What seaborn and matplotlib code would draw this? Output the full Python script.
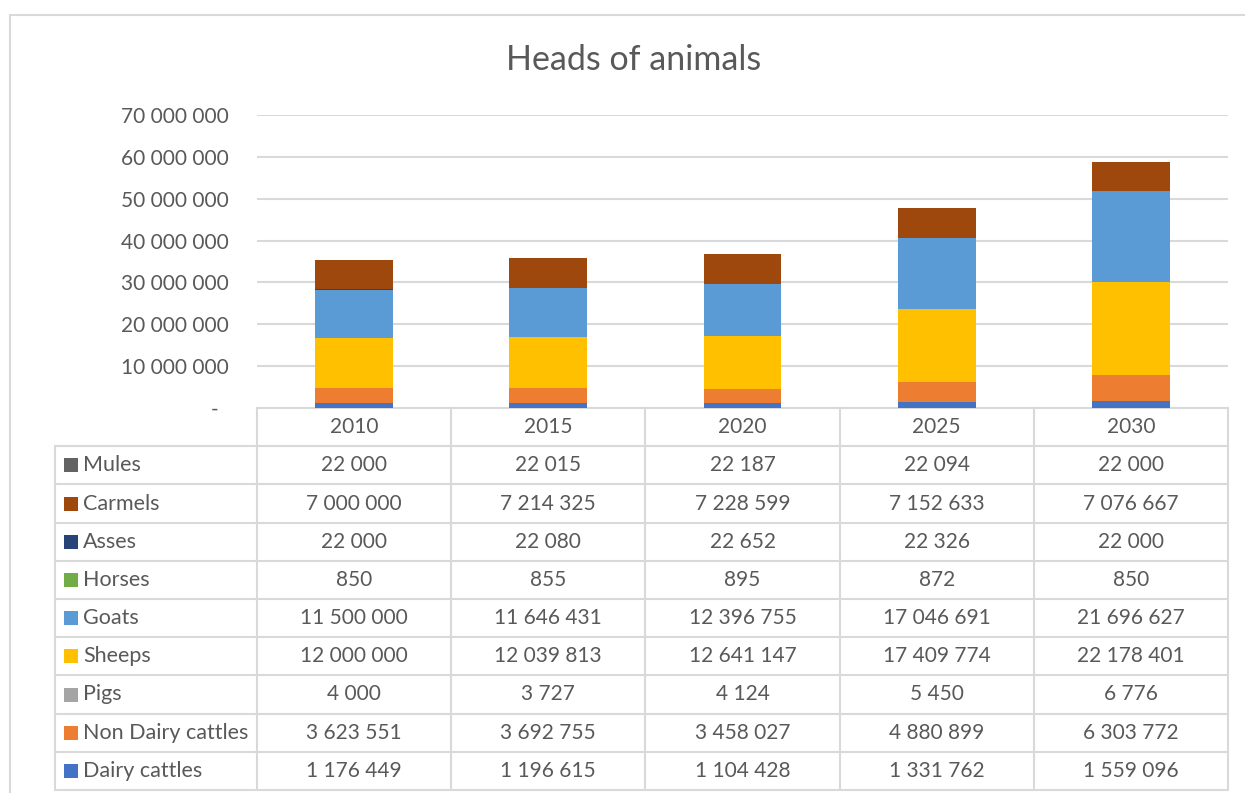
import matplotlib
matplotlib.use("Agg")
import numpy as np
import pandas as pd
import matplotlib.pyplot as plt
import seaborn as sns
from matplotlib.patches import Rectangle
from matplotlib.transforms import blended_transform_factory

# data
years = ["2010", "2015", "2020", "2025", "2030"]
dairy_cattles = [1176449, 1196615, 1104428, 1331762, 1559096]
non_dairy_cattles = [3623551, 3692755, 3458027, 4880899, 6303772]
pigs = [4000, 3727, 4124, 5450, 6776]
sheeps = [12000000, 12039813, 12641147, 17409774, 22178401]
goats = [11500000, 11646431, 12396755, 17046691, 21696627]
horses = [850, 855, 895, 872, 850]
asses = [22000, 22080, 22652, 22326, 22000]
carmels = [7000000, 7214325, 7228599, 7152633, 7076667]
mules = [22000, 22015, 22187, 22094, 22000]

series_names = ["Dairy cattles", "Non Dairy cattles", "Pigs", "Sheeps", "Goats",
                "Horses", "Asses", "Carmels", "Mules"]
colors = ["#4472C4", "#ED7D31", "#A5A5A5", "#FFC000", "#5B9BD5",
          "#70AD47", "#264478", "#9E480E", "#636363"]
y_ticks = [0, 10000000, 20000000, 30000000, 40000000, 50000000, 60000000, 70000000]

df = pd.DataFrame([dairy_cattles, non_dairy_cattles, pigs, sheeps, goats,
                   horses, asses, carmels, mules],
                  index=series_names, columns=years)
cum = df.cumsum(axis=0)

sns.set_style("white")
plt.rcParams["font.family"] = ["Lato", "DejaVu Sans"]
TXT = "#595959"
GRID = "#D9D9D9"
FS = 15
LFS = 15.5


def fmt(v):
    return f"{v:,}".replace(",", " ")


fig = plt.figure(figsize=(12.45, 7.93), dpi=100)
ax = fig.add_axes([257 / 1245, 1 - 408 / 793, 971 / 1245, 293 / 793])

# stacked bars: draw cumulative totals from the top series down
for name, col in reversed(list(zip(series_names, colors))):
    sns.barplot(x=years, y=cum.loc[name].values, color=col, saturation=1,
                width=0.4, linewidth=0, ax=ax, zorder=3)

ax.set_xlim(-0.5, len(years) - 0.5)
ax.set_ylim(0, 70000000)
ax.set_yticks(y_ticks)
ax.set_yticklabels(["-  "] + [fmt(t) for t in y_ticks[1:]], fontsize=FS, color=TXT)
ax.set_xticks([])
ax.tick_params(axis="y", length=0, pad=20)
ax.yaxis.grid(True, color=GRID, linewidth=1.5, zorder=0)
ax.set_axisbelow(True)
for s in ["left", "right", "top", "bottom"]:
    ax.spines[s].set_visible(False)
ax.set_xlabel("")
ax.set_ylabel("")

# data table below the plot
tr = blended_transform_factory(ax.transData, ax.transAxes)
rh = 38.2 / 293
col_w = 971 / len(years)
left_x = -0.5 - (257 - 55) / col_w
right_x = len(years) - 0.5
line_kw = dict(color=GRID, linewidth=1.5, transform=tr, clip_on=False)

# header row
ax.plot([-0.5, right_x], [0, 0], **line_kw)
for i, yr in enumerate(years):
    ax.text(i, -rh / 2, yr, ha="center", va="center", fontsize=FS, color=TXT,
            transform=tr, clip_on=False)
for b in np.arange(-0.5, len(years)):
    ax.plot([b, b], [0, -rh], **line_kw)

rows = list(reversed(series_names))
row_cols = list(reversed(colors))
for r, name in enumerate(rows):
    top = -rh * (r + 1)
    bot = top - rh
    mid = (top + bot) / 2
    ax.plot([left_x, right_x], [top, top], **line_kw)
    ax.plot([left_x, left_x], [top, bot], **line_kw)
    for b in np.arange(-0.5, len(years)):
        ax.plot([b, b], [top, bot], **line_kw)
    ax.add_patch(Rectangle((left_x + 9 / col_w, mid - 7 / 293), 14 / col_w, 14 / 293,
                           facecolor=row_cols[r], edgecolor="none", transform=tr,
                           clip_on=False))
    ax.text(left_x + 28 / col_w, mid, name, ha="left", va="center", fontsize=LFS,
            color=TXT, transform=tr, clip_on=False)
    for i, yr in enumerate(years):
        ax.text(i, mid, fmt(int(df.loc[name, yr])), ha="center", va="center",
                fontsize=FS, color=TXT, transform=tr, clip_on=False)
last = -rh * (len(rows) + 1)
ax.plot([left_x, right_x], [last, last], **line_kw)

fig.text(634 / 1245, 1 - 60 / 793, "Heads of animals", ha="center", va="center",
         fontsize=24.5, color=TXT)

# chart frame (cropped at right and bottom in the reference)
fig.add_artist(Rectangle((10 / 1245, -0.1), 1.5, 1.1 - 15 / 793, fill=False,
                         edgecolor=GRID, linewidth=1.5, transform=fig.transFigure))

fig.savefig("out.png", dpi=100)
